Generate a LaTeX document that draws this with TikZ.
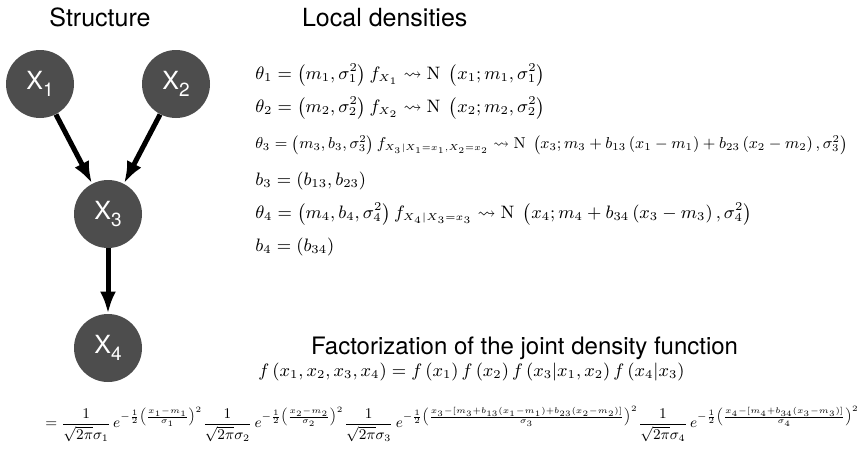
\documentclass[tikz,border=0pt]{standalone}
\usepackage{amsmath, amssymb}
\usepackage{graphicx}
\usepackage{fontspec}
\setsansfont{TeX Gyre Heros}
\usepackage{tikz}
\usetikzlibrary{
  arrows.meta,
  positioning
}
\definecolor{nodegray}{RGB}{77,77,77}
\tikzset{>={Latex[length=11pt,width=8pt]}}
\tikzset{var/.style={circle, fill=nodegray, minimum size=34pt, inner sep=0pt,
    text=white, font=\sffamily\fontsize{12.5}{12.5}\selectfont}}
\tikzset{title/.style={font=\sffamily\fontsize{12.5}{15}\selectfont}}
\tikzset{link/.style={->, line width=2.5pt}}
\tikzset{eq/.style={anchor=west, inner sep=0pt, font=\fontsize{9}{11}\selectfont}}
\newcommand{\xvar}[1]{X\raisebox{-0.55ex}{\fontsize{9.5}{9.5}\selectfont #1}}
\newcommand{\cond}[1]{f_{\scriptscriptstyle #1}}

\begin{document}
\begin{tikzpicture}[x=0.5pt, y=-0.5pt]
  \useasboundingbox (0,0) rectangle (865,455);
  % structure
  \node[title] (structure) at (100,17) {Structure};
  \node[var] (x1) at (40,84) {\xvar{1}};
  \node[var] (x2) at (176,84) {\xvar{2}};
  \node[var] (x3) at (108,214) {\xvar{3}};
  \node[var] (x4) at (108,348) {\xvar{4}};
  \draw[link] (x1) -- (x3);
  \draw[link] (x2) -- (x3);
  \draw[link] (x3) -- (x4);
  % local densities
  \node[title, anchor=west] (localtitle) at (295,18) {Local densities};
  \node[eq] (th1) at (255,75)
    {$\theta_1=\left(m_1,\sigma_1^2\right) \cond{X_1} \rightsquigarrow \mathrm{N}\;\left(x_1;m_1,\sigma_1^2\right)$};
  \node[eq] (th2) at (255,108)
    {$\theta_2=\left(m_2,\sigma_2^2\right) \cond{X_2} \rightsquigarrow \mathrm{N}\;\left(x_2;m_2,\sigma_2^2\right)$};
  \node[eq] (th3) at (255,145)
    {\resizebox{296pt}{!}{$\theta_3=\left(m_3,b_3,\sigma_3^2\right) \cond{X_3|X_1=x_1,X_2=x_2} \rightsquigarrow \mathrm{N}\;\left(x_3;m_3+b_{13}\left(x_1-m_1\right)+b_{23}\left(x_2-m_2\right),\sigma_3^2\right)$}};
  \node[eq] (b3) at (255,181)
    {$b_3=\left(b_{13},b_{23}\right)$};
  \node[eq] (th4) at (255,214)
    {$\theta_4=\left(m_4,b_4,\sigma_4^2\right) \cond{X_4|X_3=x_3} \rightsquigarrow \mathrm{N}\;\left(x_4;m_4+b_{34}\left(x_3-m_3\right),\sigma_4^2\right)$};
  \node[eq] (b4) at (255,247)
    {$b_4=\left(b_{34}\right)$};
  % factorization
  \node[title, anchor=west, font=\sffamily\fontsize{12}{14}\selectfont] (factitle) at (304,348)
    {Factorization of the joint density function};
  \node[eq] (joint) at (258,372)
    {$f\left(x_1,x_2,x_3,x_4\right)=f\left(x_1\right)f\left(x_2\right)f\left(x_3|x_1,x_2\right)f\left(x_4|x_3\right)$};
  \node[eq] (expand) at (45,424)
    {\resizebox{407pt}{!}{$\displaystyle =\frac{1}{\sqrt{2\pi}\sigma_1}\,e^{-\frac{1}{2}\left(\frac{x_1-m_1}{\sigma_1}\right)^2}
      \frac{1}{\sqrt{2\pi}\sigma_2}\,e^{-\frac{1}{2}\left(\frac{x_2-m_2}{\sigma_2}\right)^2}
      \frac{1}{\sqrt{2\pi}\sigma_3}\,e^{-\frac{1}{2}\left(\frac{x_3-\left[m_3+b_{13}\left(x_1-m_1\right)+b_{23}\left(x_2-m_2\right)\right]}{\sigma_3}\right)^2}
      \frac{1}{\sqrt{2\pi}\sigma_4}\,e^{-\frac{1}{2}\left(\frac{x_4-\left[m_4+b_{34}\left(x_3-m_3\right)\right]}{\sigma_4}\right)^2}$}};
\end{tikzpicture}
\end{document}
